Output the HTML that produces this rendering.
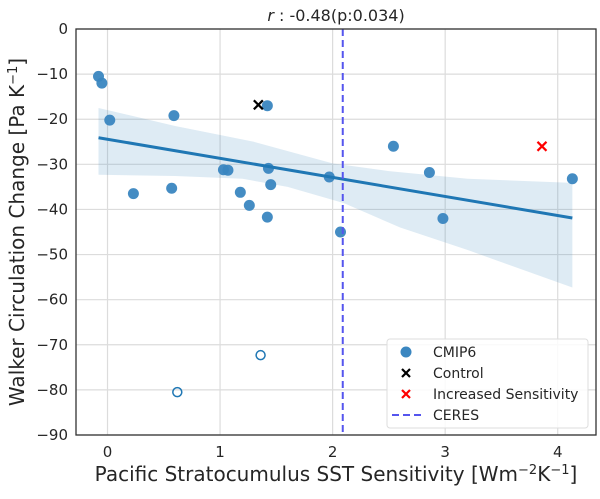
<!DOCTYPE html>
<html><head><meta charset="utf-8"><style>
body{margin:0;background:#fff;}
svg text{font-family:"DejaVu Sans","Liberation Sans",sans-serif;fill:#262626;}
</style></head><body>
<svg id="chart" width="600" height="494"></svg>
<script>
const cmipX=[-0.08,-0.05,0.02,0.23,0.57,0.59,1.03,1.07,1.18,1.26,1.42,1.43,1.45,1.42,1.97,2.07,2.54,2.86,2.98,4.13];
const cmipY=[-10.5,-12,-20.2,-36.5,-35.3,-19.2,-31.2,-31.3,-36.2,-39.1,-17,-30.9,-34.5,-41.7,-32.8,-45,-26,-31.8,-42,-33.2];
const outlierX=[0.62,1.36];
const outlierY=[-80.5,-72.3];
const controlPt=[1.34,-16.8];
const increasedPt=[3.86,-26];
const ceresX=2.09;
const fitX=[-0.08,4.13];
const fitY=[-24.1,-41.9];
const bandUpperX=[-0.08,0.6,1.3,2.0,2.5,3.2,4.13];
const bandUpperY=[-17.5,-21.5,-25,-29.8,-31.5,-33.2,-34.1];
const bandLowerX=[-0.08,0.6,1.2,1.6,2.1,2.6,3.2,4.13];
const bandLowerY=[-32.3,-32.6,-33.2,-35,-38.6,-44,-49,-57.3];
const xTicks=[0,1,2,3,4];
const yTicks=[0,-10,-20,-30,-40,-50,-60,-70,-80,-90];
const yTickLabels=["0","\u221210","\u221220","\u221230","\u221240","\u221250","\u221260","\u221270","\u221280","\u221290"];

const L=76,R=596,T=29,B=435;
const X=v=>L+(v+0.28)/(4.34+0.28)*(R-L);
const Y=v=>T+(0-v)/90*(B-T);
const svg=document.getElementById('chart');
const NS='http://www.w3.org/2000/svg';
function mk(tag,attrs,parent){const e=document.createElementNS(NS,tag);for(const k in attrs)e.setAttribute(k,attrs[k]);(parent||svg).appendChild(e);return e;}

// grid
xTicks.forEach(t=>{const l=mk('line',{x1:X(t),x2:X(t),y1:T,y2:B,stroke:'#dcdcdc','stroke-width':1.2});


const tx=mk('text',{x:X(t),y:B+22,'text-anchor':'middle','font-size':15});tx.textContent=t;

});
yTicks.forEach((t,i)=>{const l=mk('line',{x1:L,x2:R,y1:Y(t),y2:Y(t),stroke:'#dcdcdc','stroke-width':1.2});


const tx=mk('text',{x:L-8,y:Y(t)+5,'text-anchor':'end','font-size':15});tx.textContent=yTickLabels[i];

});

// band
let pts=bandUpperX.map((x,i)=>X(x)+','+Y(bandUpperY[i]));
for(let i=bandLowerX.length-1;i>=0;i--)pts.push(X(bandLowerX[i])+','+Y(bandLowerY[i]));
const band=mk('polygon',{points:pts.join(' '),fill:'#1f77b4','fill-opacity':0.15});



// points
cmipX.forEach((x,i)=>{const c=mk('circle',{cx:X(x),cy:Y(cmipY[i]),r:5.5,fill:'#3a86c0','fill-opacity':0.95});

});
outlierX.forEach((x,i)=>{const c=mk('circle',{cx:X(x),cy:Y(outlierY[i]),r:4.5,fill:'none',stroke:'#1f77b4','stroke-width':1.5});

});

// fit line
const fl=mk('line',{x1:X(fitX[0]),y1:Y(fitY[0]),x2:X(fitX[1]),y2:Y(fitY[1]),stroke:'#1f77b4','stroke-width':3});



// ceres
const cl=mk('line',{x1:X(ceresX),x2:X(ceresX),y1:T,y2:B,stroke:'#5555ee','stroke-width':2,'stroke-dasharray':'7,4'});



function cross(cx,cy,col,s){const g=mk('g',{});
mk('line',{x1:cx-s,y1:cy-s,x2:cx+s,y2:cy+s,stroke:col,'stroke-width':2.2},g);
mk('line',{x1:cx-s,y1:cy+s,x2:cx+s,y2:cy-s,stroke:col,'stroke-width':2.2},g);return g;}
const cg=cross(X(controlPt[0]),Y(controlPt[1]),'#000',4.5);


const ig=cross(X(increasedPt[0]),Y(increasedPt[1]),'#ff0000',4.5);



// frame
const fr=mk('rect',{x:L,y:T,width:R-L,height:B-T,fill:'none',stroke:'#333','stroke-width':1.3});



// legend
const lg=mk('g',{});


mk('rect',{x:387,y:339,width:201,height:89,rx:3,fill:'#fff','fill-opacity':0.85,stroke:'#ddd'},lg);
mk('circle',{cx:406,cy:352,r:5.5,fill:'#3a86c0'},lg);
cross(406,373,'#000',4);
cross(406,394,'#ff0000',4);
mk('line',{x1:392,x2:421,y1:415,y2:415,stroke:'#5555ee','stroke-width':2,'stroke-dasharray':'7,4'},lg);
[["CMIP6",352],["Control",373],["Increased Sensitivity",394],["CERES",415]].forEach(([t,y])=>{const tx=mk('text',{x:433,y:y+5,'font-size':14},lg);tx.textContent=t;

});
</script>
<svg width="600" height="494" style="position:absolute;left:0;top:0;pointer-events:none">
<text x="336" y="21" text-anchor="middle" font-size="16"><tspan font-style="italic">r</tspan> : -0.48(p:0.034)</text>
<text x="336" y="481" text-anchor="middle" font-size="20">Pacific Stratocumulus SST Sensitivity [Wm<tspan baseline-shift="super" font-size="13">−2</tspan>K<tspan baseline-shift="super" font-size="13">−1</tspan>]</text>
<text transform="translate(24,232) rotate(-90)" text-anchor="middle" font-size="20">Walker Circulation Change [Pa K<tspan baseline-shift="super" font-size="13">−1</tspan>]</text>
</svg>
</body></html>
